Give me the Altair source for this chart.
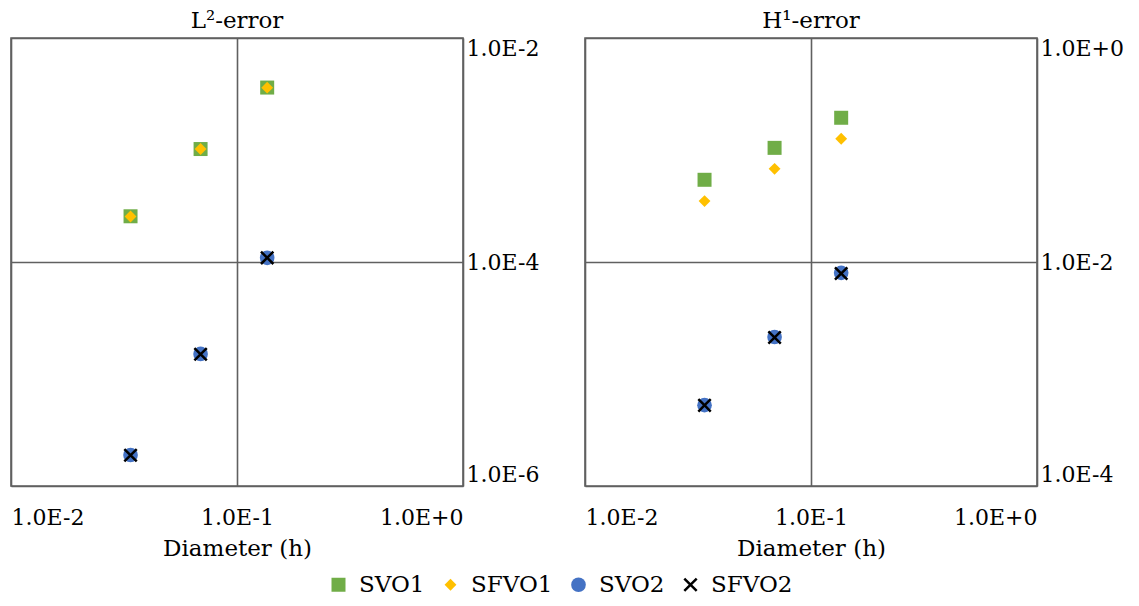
import altair as alt
import pandas as pd

# ---- data ----
h = [0.0338, 0.069, 0.136]
series = ["SVO1", "SFVO1", "SVO2", "SFVO2"]

l2_svo1 = [2.56e-4, 1.02e-3, 3.61e-3]
l2_sfvo1 = [2.55e-4, 1.02e-3, 3.60e-3]
l2_svo2 = [1.89e-6, 1.51e-5, 1.09e-4]
l2_sfvo2 = [1.88e-6, 1.50e-5, 1.09e-4]

h1_svo1 = [0.0542, 0.1045, 0.194]
h1_sfvo1 = [0.0350, 0.0679, 0.126]
h1_svo2 = [5.27e-4, 2.14e-3, 8.0e-3]
h1_sfvo2 = [5.25e-4, 2.12e-3, 7.9e-3]

x_ticks = [0.01, 0.1, 1.0]
l2_ticks = [1e-6, 1e-4, 1e-2]
h1_ticks = [1e-4, 1e-2, 1.0]

colors = ["#70ad47", "#ffc000", "#4472c4", "#000000"]
xpath = ("M-0.75,1L0,0.25L0.75,1L1,0.75L0.25,0L1,-0.75L0.75,-1L0,-0.25"
         "L-0.75,-1L-1,-0.75L-0.25,0L-1,0.75Z")
shapes = ["square", "diamond", "circle", xpath]
sizes = [196, 140, 215, 200]

FONT = "DejaVu Serif"
GRID = "#606060"
LFS = 22
TFS = 23


def frame(vals):
    rows = []
    for s, v in zip(series, vals):
        for hx, e in zip(h, v):
            rows.append({"series": s, "h": hx, "err": e, "order": series.index(s)})
    return pd.DataFrame(rows)


df_l2 = frame([l2_svo1, l2_sfvo1, l2_svo2, l2_sfvo2])
df_h1 = frame([h1_svo1, h1_sfvo1, h1_svo2, h1_sfvo2])

label_expr = ("'1.0E' + (round(log(datum.value)/LN10) >= 0 ? '+' : '-') + "
              "abs(round(log(datum.value)/LN10))")

legend = alt.Legend(orient="none", direction="horizontal", title=None,
                    legendX=316, legendY=535,
                    labelFont=FONT, labelFontSize=TFS, labelColor="black",
                    labelOffset=9, columnPadding=14, symbolStrokeWidth=0)


def panel(df, title, ydom, yticks):
    return alt.Chart(df, title=title).mark_point(filled=True, opacity=1).encode(
        x=alt.X("h:Q", scale=alt.Scale(type="log", domain=[0.01, 1.0]),
                axis=alt.Axis(values=x_ticks, labelExpr=label_expr, title="Diameter (h)",
                              labelFlush=True, labelPadding=21, titlePadding=9)),
        y=alt.Y("err:Q", scale=alt.Scale(type="log", domain=ydom),
                axis=alt.Axis(values=yticks, labelExpr=label_expr, title=None, orient="right",
                              labelFlush=True, labelPadding=3, labelAlign="left")),
        color=alt.Color("series:N", scale=alt.Scale(domain=series, range=colors), legend=legend),
        shape=alt.Shape("series:N", scale=alt.Scale(domain=series, range=shapes), legend=legend),
        size=alt.Size("series:N", scale=alt.Scale(type="ordinal", domain=series, range=sizes),
                      legend=legend),
        order=alt.Order("order:Q"),
    ).properties(width=452, height=448)


left = panel(df_l2, "L²-error", [1e-6, 1e-2], l2_ticks)
right = panel(df_h1, "H¹-error", [1e-4, 1.0], h1_ticks)

chart = alt.hconcat(left, right, spacing=44).properties(
    padding={"left": 2, "top": 1, "right": 5, "bottom": 0}
).configure_axis(
    labelFont=FONT, labelFontSize=LFS, labelColor="black",
    titleFont=FONT, titleFontSize=TFS, titleFontWeight="normal", titleColor="black",
    grid=True, gridColor=GRID, gridWidth=1.6, gridOpacity=1,
    domain=False, ticks=False,
).configure_view(
    stroke=GRID, strokeWidth=1.6
).configure_title(
    font=FONT, fontSize=TFS, fontWeight="normal", color="black", offset=0
).configure_legend(
    padding=0
)

chart.save("out.html", embed_options={"renderer": "svg", "actions": False})
